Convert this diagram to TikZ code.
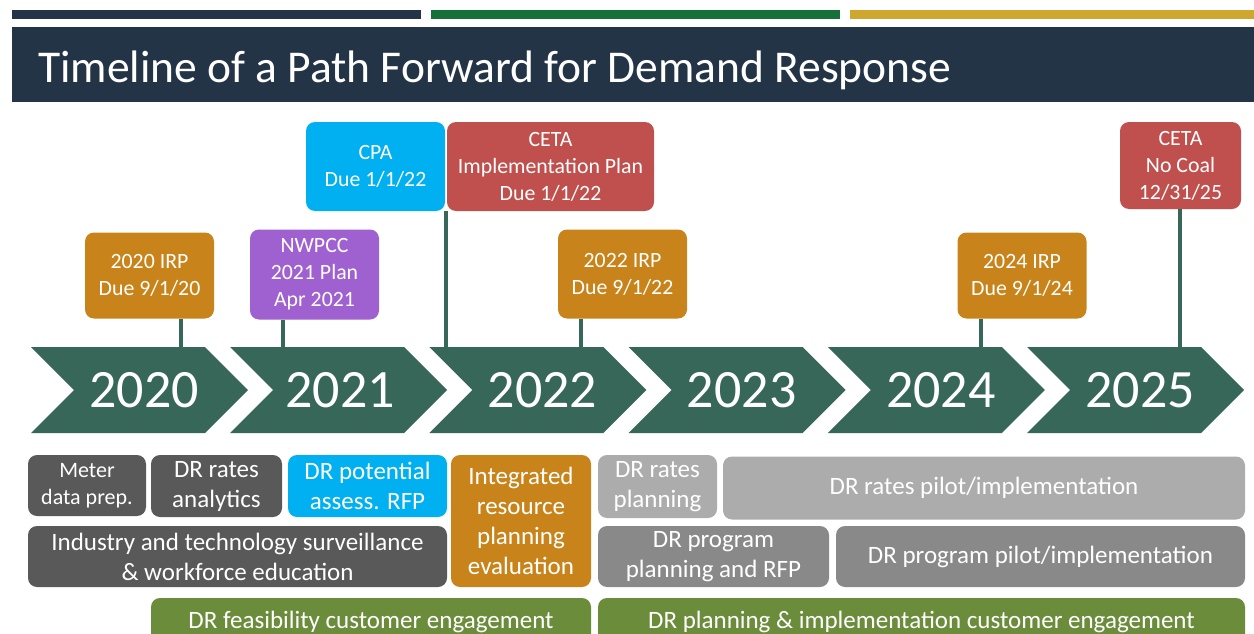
\documentclass[tikz,border=0pt]{standalone}
\usepackage{fontspec}
\setmainfont{Carlito}
\definecolor{navy}{RGB}{36,52,71}
\definecolor{bargreen}{RGB}{23,112,58}
\definecolor{bargold}{RGB}{207,167,46}
\definecolor{chev}{RGB}{55,103,89}
\definecolor{orng}{RGB}{200,132,26}
\definecolor{purp}{RGB}{160,97,208}
\definecolor{cyan1}{RGB}{0,176,240}
\definecolor{red1}{RGB}{192,80,77}
\definecolor{dgray}{RGB}{89,89,89}
\definecolor{lgray}{RGB}{172,172,172}
\definecolor{mgray}{RGB}{137,137,137}
\definecolor{olive}{RGB}{107,140,58}
\tikzset{
  rbox/.style={rounded corners=9pt, inner sep=0pt, align=center, text=white, anchor=center},
  tbox/.style={rbox, font=\fontsize{21.8}{27}\selectfont},
  bbox/.style={rbox, font=\fontsize{25}{30}\selectfont},
  stem/.style={draw=chev, line width=4pt},
  chevron/.style={fill=chev},
  yearlbl/.style={text=white, font=\fontsize{54}{60}\selectfont, anchor=base},
}
\begin{document}
\begin{tikzpicture}[x=1pt,y=-1pt]
\useasboundingbox (0,0) rectangle (1254,634);
\clip (0,0) rectangle (1254,634);
% top bars
\fill[navy] (12,10) rectangle (421,19);
\fill[bargreen] (431,10) rectangle (840,19);
\fill[bargold] (850,10) rectangle (1254,19);
% title banner
\fill[navy] (12,27) rectangle (1254,102);
\node[anchor=base west, text=white, font=\fontsize{45.5}{50}\selectfont, inner sep=0pt] (title) at (38,82) {Timeline of a Path Forward for Demand Response};
% chevrons
\foreach \x/\yr/\off in {31/2020/113, 230.2/2021/110, 429.4/2022/113, 628.6/2023/113, 827.8/2024/113, 1027/2025/113}{
  \fill[chevron] (\x,347) -- ++(174,0) -- ++(43,43) -- ++(-43,43) -- ++(-174,0) -- ++(43,-43) -- cycle;
  \node[yearlbl] (y\yr) at (\x+\off,407) {\yr};
}
% top milestone boxes
\node[tbox, fill=orng, minimum width=129, minimum height=86] (irp20) at (149.5,275.5) {2020 IRP\\Due 9/1/20};
\node[tbox, fill=purp, minimum width=129, minimum height=90] (nwpcc) at (314.5,274.5) {NWPCC\\2021 Plan\\Apr 2021};
\node[tbox, fill=cyan1, minimum width=139, minimum height=89] (cpa) at (375.5,166.5) {CPA\\Due 1/1/22};
\node[tbox, fill=red1, minimum width=207, minimum height=89] (ceta) at (550.5,166.5) {CETA\\Implementation Plan\\Due 1/1/22};
\node[tbox, fill=orng, minimum width=129, minimum height=89] (irp22) at (622.5,274) {2022 IRP\\Due 9/1/22};
\node[tbox, fill=orng, minimum width=129, minimum height=86] (irp24) at (1022,275.5) {2024 IRP\\Due 9/1/24};
\node[tbox, fill=red1, minimum width=121, minimum height=87] (coal) at (1180.5,165.5) {CETA\\No Coal\\12/31/25};
% stems
\coordinate (s1) at (181,347);
\coordinate (s2) at (283,347);
\coordinate (s3) at (446,347);
\coordinate (s4) at (581,347);
\coordinate (s5) at (981,347);
\coordinate (s6) at (1180,347);
\draw[stem] (irp20.south -| s1) -- (s1);
\draw[stem] (nwpcc.south -| s2) -- (s2);
\draw[stem] (ceta.south -| s3) -- (s3);
\draw[stem] (irp22.south -| s4) -- (s4);
\draw[stem] (irp24.south -| s5) -- (s5);
\draw[stem] (coal.south -| s6) -- (s6);
% bottom activity boxes
\node[rbox, fill=dgray, minimum width=118, minimum height=61, font=\fontsize{22}{27}\selectfont] (meter) at (87,485.5) {Meter\\data prep.};
\node[bbox, fill=dgray, minimum width=131, minimum height=62] (rates) at (216.5,486) {DR rates\\analytics};
\node[bbox, fill=cyan1, minimum width=159, minimum height=62] (potential) at (367.5,486) {DR potential\\assess. RFP};
\node[bbox, fill=orng, minimum width=140, minimum height=132] (irpeval) at (521,521) {Integrated\\resource\\planning\\evaluation};
\node[bbox, fill=dgray, minimum width=419, minimum height=61] (industry) at (237.5,556.5) {Industry and technology surveillance\\\& workforce education};
\node[rbox, fill=olive, minimum width=440, minimum height=60] (feas) at (371,628) {};
\node[anchor=base, text=white, font=\fontsize{25}{30}\selectfont, inner sep=0pt] (feastxt) at (371,628) {DR feasibility customer engagement};
\node[bbox, fill=lgray, minimum width=119, minimum height=63] (rplan) at (657.5,486.5) {DR rates\\planning};
\node[bbox, fill=lgray, minimum width=522, minimum height=63] (rpilot) at (984,488) {DR rates pilot/implementation};
\node[bbox, fill=mgray, minimum width=231, minimum height=61] (pplan) at (713.5,556.5) {DR program\\planning and RFP};
\node[bbox, fill=mgray, minimum width=409, minimum height=61] (ppilot) at (1040.5,556.5) {DR program pilot/implementation};
\node[rbox, fill=olive, minimum width=647, minimum height=60] (impl) at (921.5,628) {};
\node[anchor=base, text=white, font=\fontsize{25}{30}\selectfont, inner sep=0pt] (impltxt) at (921.5,628) {DR planning \& implementation customer engagement};
\end{tikzpicture}
\end{document}
